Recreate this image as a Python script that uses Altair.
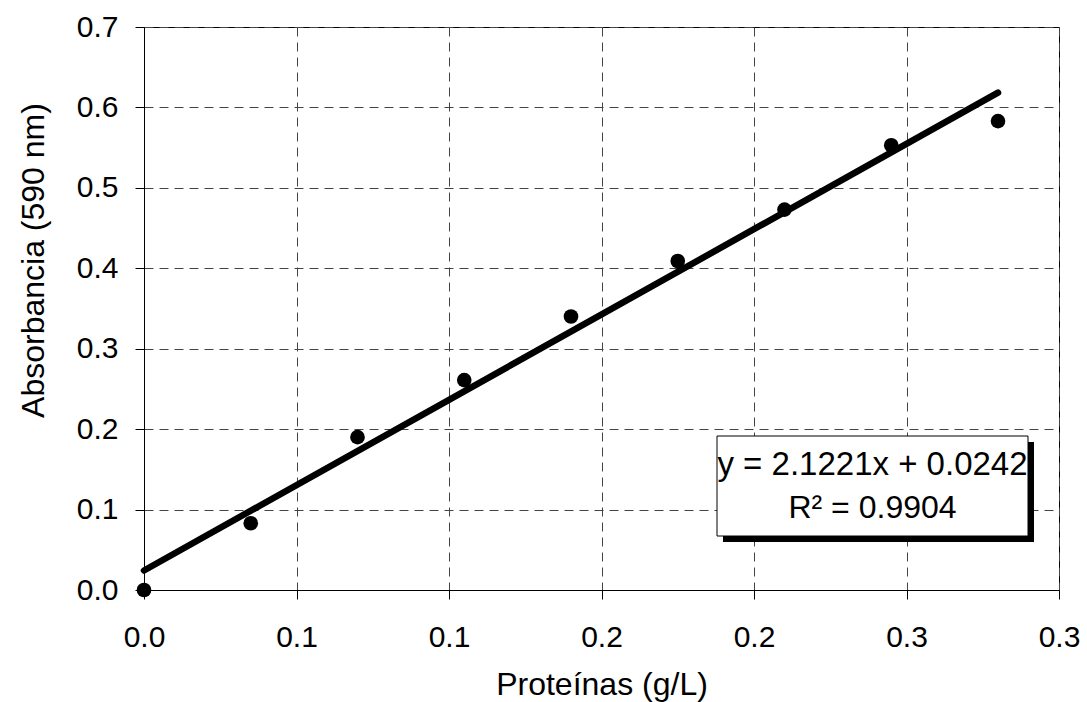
import altair as alt
import pandas as pd

# Data
proteinas = [0.0, 0.035, 0.070, 0.105, 0.140, 0.175, 0.210, 0.245, 0.280]
absorbancia = [0.0, 0.083, 0.190, 0.261, 0.340, 0.409, 0.473, 0.553, 0.583]

x_ticks = [0.0, 0.05, 0.10, 0.15, 0.20, 0.25, 0.30]
x_tick_labels = ["0.0", "0.1", "0.1", "0.2", "0.2", "0.3", "0.3"]
y_ticks = [0.0, 0.1, 0.2, 0.3, 0.4, 0.5, 0.6, 0.7]

eq_line1 = "y = 2.1221x + 0.0242"
eq_line2 = "R\u00b2 = 0.9904"

df = pd.DataFrame({"x": proteinas, "y": absorbancia})

FONT = "Liberation Sans"
label_expr = "[" + ",".join("'%s'" % s for s in x_tick_labels) + "][round(datum.value*20)]"

xs = alt.Scale(domain=[0, 0.3], nice=False, zero=False)
ys = alt.Scale(domain=[0, 0.7], nice=False, zero=False)

x_axis = alt.Axis(values=x_ticks, labelExpr=label_expr, title="Proteínas (g/L)",
                  tickSize=9, labelPadding=23, labelFontSize=30, titleFontSize=32,
                  titleY=104, titleBaseline="alphabetic", labelFlush=False)
y_axis = alt.Axis(values=y_ticks, format=".1f", title="Absorbancia (590 nm)",
                  tickSize=9, labelPadding=17, labelFontSize=30, titleFontSize=32,
                  titleX=-101, titleY=233, titleAngle=270, titleAlign="center",
                  titleBaseline="alphabetic", labelFlush=False)

base = alt.Chart(df)

points = base.mark_circle(size=215, color="black", opacity=1).encode(
    x=alt.X("x:Q", scale=xs, axis=x_axis),
    y=alt.Y("y:Q", scale=ys, axis=y_axis),
)

trend = base.transform_regression("x", "y", method="linear").mark_line(
    color="black", strokeWidth=6.5, strokeCap="round"
).encode(x=alt.X("x:Q", scale=xs), y=alt.Y("y:Q", scale=ys))

one = alt.Data(values=[{"a": 1}])

shadow = alt.Chart(one).mark_rect(color="black").encode(
    x=alt.value(579), x2=alt.value(890), y=alt.value(415), y2=alt.value(515)
)
box = alt.Chart(one).mark_rect(fill="white", stroke="black", strokeWidth=1).encode(
    x=alt.value(573), x2=alt.value(884), y=alt.value(409), y2=alt.value(509)
)
t1 = alt.Chart(one).mark_text(font=FONT, fontSize=33, align="center",
                              baseline="alphabetic", color="black").encode(
    x=alt.value(728.5), y=alt.value(448), text=alt.value(eq_line1)
)
t2 = alt.Chart(one).mark_text(font=FONT, fontSize=32, align="center",
                              baseline="alphabetic", color="black").encode(
    x=alt.value(728.5), y=alt.value(491), text=alt.value(eq_line2)
)

chart = alt.layer(trend, points, shadow, box, t1, t2).properties(
    width=915, height=563,
    padding={"left": 144, "top": 27, "right": 28, "bottom": 112},
    autosize="none",
    background="white",
).configure_view(
    stroke="black", strokeWidth=1
).configure_axis(
    labelFont=FONT, titleFont=FONT, labelColor="black", titleColor="black",
    titleFontWeight="normal",
    domainColor="black", domainWidth=1, tickColor="black", tickWidth=1,
    grid=True, gridColor="#444444", gridDash=[9, 6], gridWidth=1, gridOpacity=1,
)

chart.save("out.html", embed_options={"renderer": "svg", "actions": False})
